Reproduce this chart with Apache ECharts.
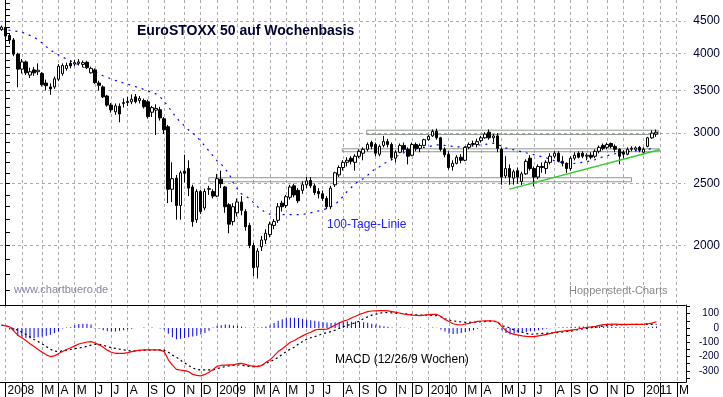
<!DOCTYPE html>
<html><head><meta charset="utf-8">
<script src="https://cdn.jsdelivr.net/npm/echarts@6/dist/echarts.min.js"></script>
<style>html,body{margin:0;padding:0;background:#fff}#c{width:723px;height:397px}</style>
</head><body><div id="c"></div>
<script>
// ---------- data ----------
const firstWeekMonday = '2007-12-24';   // weekly candles, one per week
// [open, close, low, high]
const candles = [
[4360,4400,4340,4425],[4395,4260,4230,4410],[4270,4200,4140,4300],[4200,3990,3960,4230],[3990,3780,3540,4010],
[3780,3880,3720,3920],[3880,3730,3700,3900],[3700,3745,3660,3800],[3770,3730,3690,3810],[3745,3765,3700,3860],
[3720,3575,3550,3740],[3595,3560,3500,3640],[3545,3520,3445,3590],[3545,3650,3520,3680],[3645,3820,3620,3850],
[3720,3830,3690,3860],[3790,3830,3760,3870],[3860,3825,3790,3900],[3850,3870,3820,3910],[3860,3880,3830,3920],
[3845,3870,3810,3900],[3875,3800,3780,3895],[3730,3790,3720,3815],[3770,3600,3585,3790],[3595,3565,3500,3625],
[3545,3420,3405,3565],[3430,3320,3300,3445],[3320,3265,3230,3345],[3240,3310,3205,3340],[3305,3215,3120,3340],
[3340,3350,3290,3400],[3350,3365,3310,3420],[3360,3390,3330,3450],[3420,3360,3340,3455],[3375,3400,3340,3430],
[3375,3300,3280,3400],[3360,3185,3160,3385],[3235,3290,3180,3310],[3260,3280,2980,3330],[3265,3170,3140,3300],
[3160,3036,2990,3180],[3070,2450,2330,3090],[2450,2545,2340,2700],[2550,2310,2195,2580],[2310,2600,2195,2620],
[2615,2595,2510,2775],[2640,2460,2390,2720],[2470,2180,2140,2490],[2195,2430,2170,2450],[2430,2260,2240,2445],
[2290,2430,2270,2455],[2450,2455,2400,2480],[2430,2390,2370,2450],[2390,2545,2380,2590],[2540,2500,2460,2620],
[2470,2300,2250,2480],[2317,2160,2090,2330],[2180,2300,2150,2330],[2250,2340,2220,2370],[2340,2270,2230,2390],
[2260,2140,2110,2280],[2150,2000,1980,2170],[2000,1845,1790,2020],[1850,1960,1775,1980],[1990,2040,1960,2070],
[2040,2090,2010,2120],[2080,2160,2060,2180],[2150,2180,2120,2200],[2190,2300,2170,2330],[2330,2300,2260,2350],
[2310,2385,2290,2400],[2380,2470,2360,2490],[2480,2400,2380,2500],[2440,2350,2330,2460],[2440,2490,2410,2520],
[2490,2525,2460,2560],[2530,2480,2460,2560],[2480,2420,2400,2500],[2430,2410,2370,2460],[2410,2370,2350,2440],
[2370,2300,2280,2390],[2300,2460,2280,2480],[2490,2600,2470,2610],[2580,2650,2560,2670],[2650,2700,2620,2720],
[2700,2720,2660,2750],[2740,2710,2680,2760],[2700,2760,2620,2780],[2760,2810,2740,2830],[2790,2830,2720,2850],
[2830,2880,2810,2900],[2900,2860,2830,2920],[2880,2790,2760,2900],[2780,2860,2760,2880],[2870,2910,2850,2970],
[2910,2880,2850,2940],[2880,2745,2720,2900],[2740,2800,2700,2820],[2800,2870,2790,2890],[2870,2830,2800,2900],
[2830,2760,2680,2850],[2770,2880,2760,2900],[2880,2840,2810,2900],[2840,2870,2800,2890],[2870,2930,2860,2940],
[2930,2965,2920,2980],[2970,3020,2960,3040],[3020,2950,2930,3050],[2950,2830,2810,2960],[2830,2775,2750,2850],
[2780,2650,2630,2810],[2660,2690,2620,2720],[2690,2750,2680,2770],[2750,2720,2690,2780],[2720,2850,2710,2860],
[2850,2880,2830,2900],[2880,2890,2860,2920],[2880,2910,2850,2940],[2920,2950,2900,2970],[2950,2990,2940,3010],
[3010,2950,2930,3040],[2950,2970,2900,2990],[2970,2840,2800,3000],[2830,2560,2490,2850],[2570,2640,2550,2760],
[2640,2560,2490,2680],[2550,2610,2490,2630],[2620,2560,2500,2650],[2520,2590,2488,2610],[2590,2710,2580,2730],
[2740,2640,2620,2770],[2640,2560,2475,2660],[2560,2660,2540,2680],[2660,2650,2600,2700],[2640,2700,2590,2720],
[2700,2760,2680,2790],[2760,2790,2740,2810],[2790,2710,2700,2810],[2710,2690,2660,2760],[2690,2640,2600,2700],
[2640,2740,2620,2760],[2740,2770,2720,2800],[2790,2750,2740,2810],[2790,2760,2740,2810],[2760,2770,2720,2790],
[2770,2750,2730,2800],[2760,2810,2740,2830],[2810,2850,2790,2870],[2870,2840,2820,2890],[2850,2880,2830,2900],
[2890,2860,2840,2900],[2860,2830,2800,2880],[2830,2760,2680,2840],[2800,2780,2740,2820],[2780,2830,2770,2850],
[2830,2840,2810,2860],[2830,2845,2810,2860],[2850,2820,2800,2865],[2800,2830,2780,2850],[2860,2950,2850,2960],
[2950,3000,2940,3030],[2990,3010,2960,3040]
];
// 100-Tage-Linie
const ma100 = [
4370,4360,4350,4340,4330,4320,4295,4270,4245,4200,4155,4100,4050,4015,3980,3950,3920,3895,3865,3840,
3810,3790,3770,3740,3715,3690,3670,3650,3630,3612,3595,3580,3565,3548,3532,3513,3495,3476,3457,3420,
3370,3300,3240,3170,3125,3080,3036,3003,2960,2918,2866,2815,2765,2716,2686,2638,2590,2510,2455,2410,
2393,2368,2334,2300,2276,2251,2240,2235,2235,2235,2235,2235,2235,2235,2237,2242,2250,2258,2266,2275,
2284,2300,2317,2350,2385,2429,2463,2499,2527,2545,2573,2610,2638,2657,2686,2705,2725,2755,2775,2795,
2805,2815,2835,2845,2850,2855,2866,2876,2876,2870,2866,2860,2855,2855,2855,2860,2866,2870,2876,2880,
2886,2892,2876,2866,2845,2835,2825,2815,2805,2795,2785,2775,2765,2755,2745,2730,2716,2706,2696,2690,
2686,2690,2696,2700,2705,2715,2725,2740,2755,2765,2775,2785,2795,2800,2805,2810,2815,2820,2825,2830,
2835,2835
];
const macdLine = [
20,15,8,-20,-50,-68,-88,-110,-130,-150,-170,-188,-200,-195,-180,-165,-150,-138,-125,-112,
-105,-98,-95,-105,-118,-135,-155,-170,-177,-178,-177,-172,-165,-160,-155,-153,-153,-153,-153,-155,
-165,-223,-260,-290,-295,-298,-305,-325,-332,-335,-325,-310,-290,-268,-262,-260,-258,-258,-250,-248,
-255,-263,-267,-270,-262,-240,-223,-195,-165,-145,-122,-100,-88,-70,-55,-40,-30,-15,-9,-9,
-8,5,20,35,48,56,70,82,95,105,115,119,120,121,121,120,115,110,103,97,
94,90,88,86,90,93,95,95,80,60,45,30,24,21,28,33,40,46,49,50,
50,49,40,10,-20,-35,-45,-50,-55,-58,-60,-60,-55,-50,-45,-38,-30,-25,-22,-18,
-15,-12,-5,0,5,8,12,18,23,26,27,27,26,26,26,26,26,26,27,30,
36,44
];
const signalLine = [
20,15,5,-5,-15,-30,-45,-62,-80,-95,-112,-130,-148,-162,-165,-160,-155,-150,-145,-140,
-135,-128,-120,-114,-115,-120,-130,-138,-142,-148,-153,-157,-160,-160,-158,-156,-155,-154,-153,-153,
-155,-170,-190,-205,-225,-245,-262,-280,-290,-293,-293,-293,-293,-285,-277,-270,-265,-260,-258,-260,
-265,-270,-270,-268,-260,-248,-235,-222,-205,-185,-165,-148,-135,-112,-95,-78,-68,-60,-50,-40,
-33,-25,-15,-3,9,18,28,37,49,65,78,90,97,103,109,108,106,104,102,100,
97,94,92,91,90,89,87,86,80,65,56,50,46,42,40,40,41,42,44,46,
48,49,40,15,9,0,-14,-22,-30,-38,-44,-42,-40,-38,-37,-35,-33,-30,-27,-24,
-21,-15,-10,-5,-2,2,6,10,14,17,20,21,22,23,24,25,26,26,26,26,
26,26
];
const macdHist = [
0,-3,-10,-20,-55,-60,-70,-72,-70,-65,-60,-55,-48,-35,-25,-3,4,6,20,28,
30,30,25,-5,-5,-15,-22,-25,-25,-20,-15,-10,-5,0,0,3,0,3,0,-3,
-10,-40,-65,-78,-75,-70,-65,-60,-55,-45,-35,-20,4,15,20,25,22,18,15,10,
4,2,3,4,5,10,20,35,50,62,68,72,72,70,65,58,55,50,45,42,
38,35,38,42,44,45,44,45,46,40,36,30,24,18,12,8,4,2,3,2,
-2,2,2,3,-2,2,3,2,-10,-25,-38,-42,-40,-35,-30,-22,-15,-5,2,3,
2,2,-5,-15,-35,-45,-40,-35,-30,-28,-22,-20,-15,-10,-5,-2,2,4,5,6,
8,9,10,10,10,9,10,12,12,10,8,7,6,5,5,4,3,3,4,6,
8,10
];
const priceTickLabels = [2000, 2500, 3000, 3500, 4000, 4500];
const macdTickLabels = [100, 0, -100, -200, -300];
const monthLetters = ['J','F','M','A','M','J','J','A','S','O','N','D'];
// grey resistance / support zones
const zoneFrom = ['2009-09-15', '2009-08-04', '2008-12-17'];
const zoneTo   = ['2011-01-30', '2011-02-01', '2010-12-15'];
const zoneLow  = [2985, 2805, 2517];
const zoneHigh = [3032, 2835, 2554];
// green support trend line
const trendDates = ['2010-05-19', '2011-02-01'];
const trendValues = [2451, 2825];

// ---------- helpers ----------
const DAY_MS = 86400000;
const ORIGIN = Date.UTC(2008, 0, 1);
const dayIndex = iso => (Date.parse(iso + 'T00:00:00Z') - ORIGIN) / DAY_MS;
const firstMon = dayIndex(firstWeekMonday);
const xOf = i => firstMon + 7 * i + 2;

const monthTicks = [], monthLabelValues = [], monthLabelMap = {};
for (let y = 2008; y <= 2011; y++) {
  for (let m = 0; m < 12; m++) {
    if (y === 2011 && m > 2) break;
    let t = Date.UTC(y, m, 1);
    let dow = new Date(t).getUTCDay();
    if (dow === 6) { t += 2 * DAY_MS; dow = 1; } else if (dow === 0) { t += DAY_MS; dow = 1; }
    const v = Math.round((t - (dow - 1) * DAY_MS + 2 * DAY_MS - ORIGIN) / DAY_MS);
    monthTicks.push(v);
    if (m !== 1) { monthLabelValues.push(v); monthLabelMap[v] = m === 0 ? String(y) : monthLetters[m]; }
  }
}
const minorPriceTicks = [];
for (let p = 1700; p <= 4800; p += 100) minorPriceTicks.push(p);
const minorMacdTicks = [];
for (let p = -350; p <= 150; p += 50) minorMacdTicks.push(p);

const X_MIN = -8.6, X_MAX = 1171.7;
const FONT = '"Liberation Sans", Arial, sans-serif';
const gridDash = { color: '#b0a8b0', width: 1, type: [3, 3] };

const candleData = candles.map((c, i) => [xOf(i), c[0], c[1], c[2], c[3]]);
const maData = ma100.map((v, i) => [xOf(i), v]);
const macdData = macdLine.map((v, i) => [xOf(i), v]);
const sigData = signalLine.map((v, i) => [xOf(i), v]);
const histData = macdHist.map((v, i) => [xOf(i), v]);
const zones = zoneFrom.map((f, k) => [
  { coord: [dayIndex(f), zoneLow[k]] },
  { coord: [dayIndex(zoneTo[k]), zoneHigh[k]] }
]);
const trendData = trendDates.map((d, k) => [dayIndex(d), trendValues[k]]);

const chart = echarts.init(document.getElementById('c'), null, { renderer: 'canvas' });
chart.setOption({
  animation: false,
  backgroundColor: '#ffffff',
  grid: [
    { left: 0, top: 0, width: 686, height: 305, containLabel: false },
    { left: 0, top: 305, width: 686, height: 77, containLabel: false }
  ],
  xAxis: [
    { type: 'value', gridIndex: 0, min: X_MIN, max: X_MAX,
      axisLine: { show: true, onZero: false, lineStyle: { color: '#000', width: 1 } },
      axisTick: { show: false, customValues: monthTicks },
      axisLabel: { show: false },
      splitLine: { show: true, lineStyle: gridDash } },
    { type: 'value', gridIndex: 1, min: X_MIN, max: X_MAX,
      axisLine: { show: true, onZero: false, lineStyle: { color: '#000', width: 1 } },
      axisTick: { show: true, inside: false, length: 15, customValues: monthTicks, lineStyle: { color: '#000', width: 1 } },
      axisLabel: { show: true, customValues: monthLabelValues, align: 'left', margin: 3, padding: [0, 0, 0, 2],
        formatter: v => monthLabelMap[Math.round(v)] || '', color: '#000', fontSize: 12, fontFamily: FONT },
      splitLine: { show: true, lineStyle: gridDash } }
  ],
  yAxis: [
    { type: 'log', gridIndex: 0, position: 'right', min: 1613, max: 4852,
      axisLine: { show: true, lineStyle: { color: '#000', width: 1 } },
      axisTick: { show: true, inside: false, length: 5, customValues: minorPriceTicks, lineStyle: { color: '#000' } },
      axisLabel: { show: true, customValues: priceTickLabels, margin: 8, color: '#000033', fontSize: 12, fontFamily: FONT,
        formatter: v => String(Math.round(v)) },
      splitLine: { show: false } },
    { type: 'log', gridIndex: 0, position: 'right', min: 1613, max: 4852,
      axisLine: { show: false }, axisLabel: { show: false },
      axisTick: { show: false, customValues: priceTickLabels },
      splitLine: { show: true, lineStyle: gridDash } },
    { type: 'value', gridIndex: 1, position: 'right', min: -378, max: 161,
      axisLine: { show: true, onZero: false, lineStyle: { color: '#000', width: 1 } },
      axisTick: { show: true, inside: false, length: 4, customValues: minorMacdTicks, lineStyle: { color: '#000' } },
      axisLabel: { show: true, customValues: macdTickLabels, align: 'right', margin: 33, color: '#000033', fontSize: 10, fontFamily: FONT,
        formatter: v => String(Math.round(v)) },
      splitLine: { show: false } }
  ],
  series: [
    { type: 'line', xAxisIndex: 0, yAxisIndex: 0, data: maData, showSymbol: false, symbol: 'none', z: 3,
      lineStyle: { color: '#0000ff', width: 1.2, type: [2, 5] },
      markArea: { silent: true, itemStyle: { color: 'rgba(255,255,255,0)', borderColor: '#8e968e', borderWidth: 1 }, data: zones } },
    { type: 'candlestick', xAxisIndex: 0, yAxisIndex: 0, data: candleData, encode: { x: 0, y: [1, 2, 3, 4] },
      barWidth: 3, z: 4,
      itemStyle: { color: '#ffffff', color0: '#000000', borderColor: '#000000', borderColor0: '#000000', borderWidth: 1 } },
    { type: 'line', xAxisIndex: 0, yAxisIndex: 0, data: trendData, showSymbol: false, symbol: 'none', z: 5,
      lineStyle: { color: '#33cc33', width: 1.5 } },
    { type: 'bar', xAxisIndex: 1, yAxisIndex: 2, data: histData, barWidth: 1, z: 2,
      itemStyle: { color: '#0000ff' } },
    { type: 'line', xAxisIndex: 1, yAxisIndex: 2, data: sigData, showSymbol: false, symbol: 'none', z: 3,
      lineStyle: { color: '#000000', width: 1.2, type: [2, 3] } },
    { type: 'line', xAxisIndex: 1, yAxisIndex: 2, data: macdData, showSymbol: false, symbol: 'none', z: 4,
      lineStyle: { color: '#ff0000', width: 1.2 } }
  ],
  graphic: [
    { type: 'text', left: 137, top: 24, z: 10, style: { text: 'EuroSTOXX 50 auf Wochenbasis', font: 'bold 14px ' + FONT, fill: '#000033' } },
    { type: 'text', left: 327, top: 219, z: 10, style: { text: '100-Tage-Linie', font: '12px ' + FONT, fill: '#2020ff' } },
    { type: 'text', left: 14, top: 284, z: 10, style: { text: 'www.chartbuero.de', font: '11px ' + FONT, fill: '#8484a8' } },
    { type: 'text', left: 569, top: 285, z: 10, style: { text: 'Hoppenstedt-Charts', font: '11px ' + FONT, fill: '#8a8a8a' } },
    { type: 'text', left: 335, top: 354, z: 10, style: { text: 'MACD (12/26/9 Wochen)', font: '12px ' + FONT, fill: '#000000' } }
  ]
});
</script></body></html>
